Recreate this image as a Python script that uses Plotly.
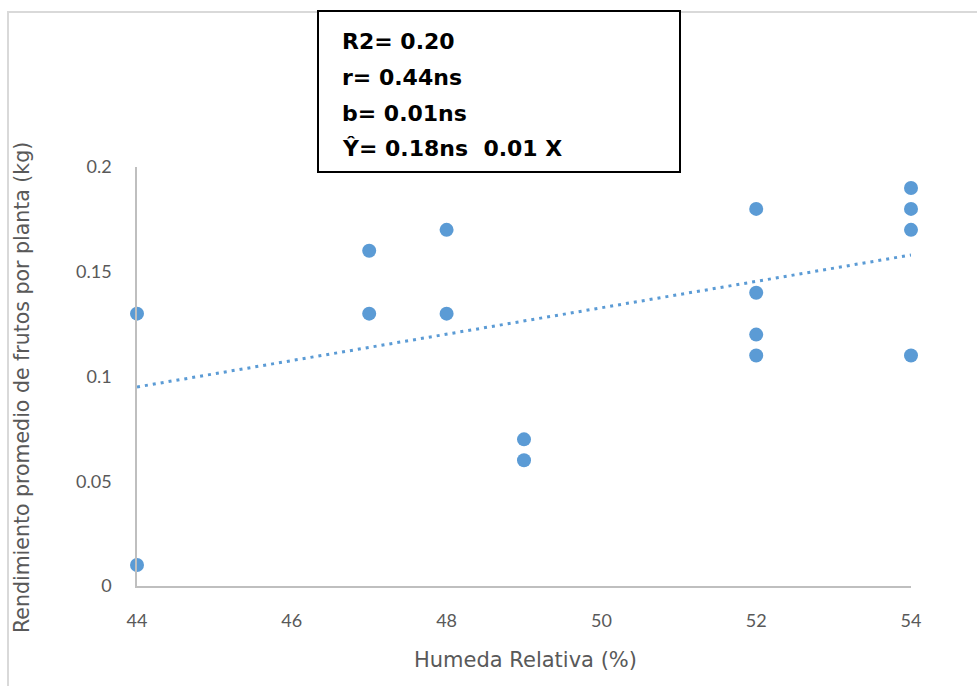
import plotly.graph_objects as go

humedad = [44, 44, 47, 47, 48, 48, 49, 49, 52, 52, 52, 52, 54, 54, 54, 54]
rendimiento = [0.13, 0.01, 0.16, 0.13, 0.17, 0.13, 0.07, 0.06,
               0.18, 0.14, 0.12, 0.11, 0.19, 0.18, 0.17, 0.11]
# linear trendline end points as drawn in the reference
trend_x = [44, 54]
trend_y = [0.095, 0.158]
x_ticks = [44, 46, 48, 50, 52, 54]
y_ticks = [0, 0.05, 0.1, 0.15, 0.2]
stats_lines = ["R2= 0.20", "r= 0.44ns", "b= 0.01ns", "Ŷ= 0.18ns  0.01 X"]
x_title = "Humeda Relativa (%)"
y_title = "Rendimiento promedio de frutos por planta (kg)"

W, H = 977, 686
L, R, T, B = 137, 66, 167, 100
pw, ph = W - L - R, H - T - B

def px(xp):
    return (xp - L) / pw

def py(yp):
    return (H - B - yp) / ph

blue = "#5b9bd5"
gray_txt = "#595959"

fig = go.Figure()
fig.add_trace(go.Scatter(x=trend_x, y=trend_y, mode="lines",
                         line=dict(color=blue, width=3, dash="3px,5px"),
                         hoverinfo="skip", showlegend=False))
fig.add_trace(go.Scatter(x=humedad, y=rendimiento, mode="markers",
                         marker=dict(color=blue, size=14),
                         cliponaxis=False, showlegend=False))

shapes = [
    dict(type="rect", xref="paper", yref="paper", x0=px(8), x1=px(990),
         y0=py(700), y1=py(12), line=dict(color="#d9d9d9", width=2), layer="below"),
    dict(type="rect", xref="paper", yref="paper", x0=px(318), x1=px(680),
         y0=py(172), y1=py(11), line=dict(color="black", width=2),
         fillcolor="white", layer="above"),
]

annotations = []
line_y = [42, 78, 113, 148]
for txt, yy in zip(stats_lines, line_y):
    annotations.append(dict(text="<b>%s</b>" % txt, xref="paper", yref="paper",
                            x=px(340), y=py(yy), xanchor="left", yanchor="middle",
                            showarrow=False,
                            font=dict(family="DejaVu Sans", size=22, color="black")))
annotations.append(dict(text=x_title, xref="paper", yref="paper",
                        x=px(525), y=py(660), xanchor="center", yanchor="middle",
                        showarrow=False,
                        font=dict(family="DejaVu Sans", size=21, color=gray_txt)))
annotations.append(dict(text=y_title, xref="paper", yref="paper", textangle=-90,
                        x=px(22), y=py(388), xanchor="center", yanchor="middle",
                        showarrow=False,
                        font=dict(family="DejaVu Sans", size=20.5, color=gray_txt)))

fig.update_layout(
    width=W, height=H,
    margin=dict(l=L, r=R, t=T, b=B),
    paper_bgcolor="white", plot_bgcolor="white",
    font=dict(family="Lato, Noto Sans, sans-serif", color=gray_txt),
    shapes=shapes, annotations=annotations,
    xaxis=dict(range=[44, 54], tickvals=x_ticks, showgrid=False, zeroline=False,
               showline=True, linecolor="#bfbfbf", linewidth=1.5,
               ticks="outside", ticklen=0, ticklabelstandoff=18,
               tickfont=dict(size=18, color=gray_txt)),
    yaxis=dict(range=[0, 0.2], tickvals=y_ticks, showgrid=False, zeroline=False,
               showline=True, linecolor="#bfbfbf", linewidth=1.5,
               ticks="outside", ticklen=0, ticklabelstandoff=20,
               tickfont=dict(size=18, color=gray_txt)),
)

fig.write_html("out.html", config={"displayModeBar": False},
               post_script="document.body.style.margin='0';document.body.style.overflow='hidden';")
